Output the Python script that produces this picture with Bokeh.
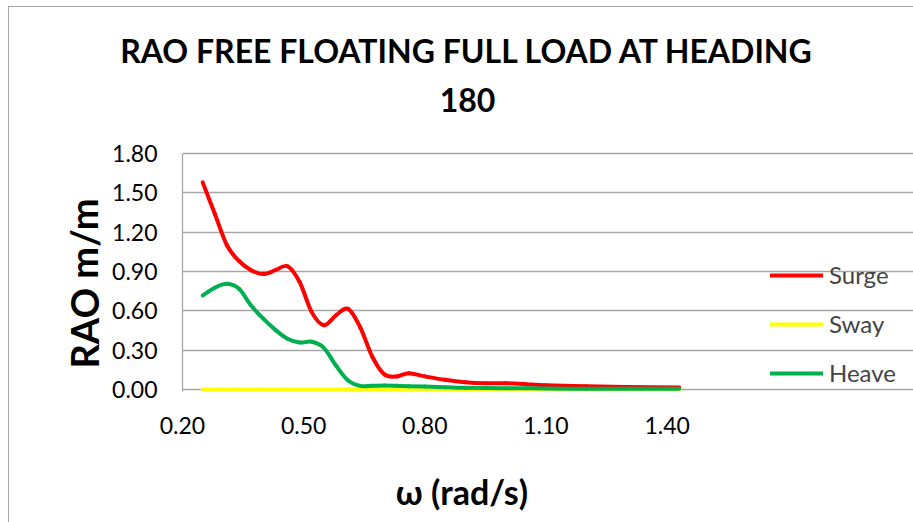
from bokeh.plotting import figure
from bokeh.layouts import column, row
from bokeh.models import Range1d, FixedTicker, NumeralTickFormatter, Label, Legend, LegendItem
from bokeh.embed import file_html
from bokeh.resources import INLINE

# ---- data ----
omega = [0.25, 0.28, 0.31, 0.34, 0.37, 0.40, 0.43, 0.46, 0.49, 0.52, 0.55, 0.58, 0.61, 0.64,
         0.67, 0.70, 0.73, 0.76, 0.80, 0.85, 0.90, 0.95, 1.00, 1.05, 1.10, 1.20, 1.30, 1.43]
surge = [1.58, 1.34, 1.10, 0.98, 0.91, 0.88, 0.91, 0.94, 0.82, 0.59, 0.49, 0.565, 0.615, 0.475,
         0.25, 0.115, 0.10, 0.124, 0.10, 0.074, 0.056, 0.048, 0.048, 0.040, 0.032, 0.025, 0.020, 0.015]
sway = [0.0, 0.0, 0.0, 0.0, 0.0, 0.0, 0.0, 0.0, 0.0, 0.0, 0.0, 0.0, 0.0, 0.0,
        0.0, 0.0, 0.0, 0.0, 0.0, 0.0, 0.0, 0.0, 0.0, 0.0, 0.0, 0.0, 0.0, 0.0]
heave = [0.717, 0.776, 0.806, 0.768, 0.64, 0.54, 0.455, 0.387, 0.358, 0.364, 0.318, 0.183, 0.069, 0.028,
         0.028, 0.030, 0.028, 0.025, 0.022, 0.018, 0.013, 0.011, 0.010, 0.009, 0.008, 0.006, 0.005, 0.005]

x_ticks = [0.20, 0.50, 0.80, 1.10, 1.40]
y_ticks = [0.00, 0.30, 0.60, 0.90, 1.20, 1.50, 1.80]
x_axis_min, x_axis_max = 0.2, 1.5
y_axis_min, y_axis_max = 0.0, 1.8

title_line1 = "RAO FREE FLOATING FULL LOAD AT HEADING"
title_line2 = "180"
y_title = "RAO m/m"
x_title = "\u03c9 (rad/s)"
series_names = ["Surge", "Sway", "Heave"]
series_colors = ["#FF0000", "#FFFF00", "#00B050"]

FONT = "Lato"
GRID = "#A6A6A6"

# ---- pixel geometry ----
W, H = 904, 515              # size inside the chart border
TOP_PAD = 22                 # room above the 1.80 gridline for its label
TITLE_H = 124                # title strip height
YT_W = 100                   # y-title strip width
MAIN_W = W - YT_W
FRAME_LEFT = 73              # space for y tick labels
BOTTOM = 60                  # space for x tick labels
PLOT_W, PLOT_H = 525, 236    # visible plot area (px)
px_x = PLOT_W / (x_axis_max - x_axis_min)
px_y = PLOT_H / (y_axis_max - y_axis_min)
y_lo = y_axis_min - 2 / px_y
y_hi = y_axis_max + TOP_PAD / px_y
frame_w = MAIN_W - FRAME_LEFT
frame_h = PLOT_H + 2 + TOP_PAD
x_hi = x_axis_min + frame_w / px_x
MAIN_H = frame_h + BOTTOM
XT_H = H - TITLE_H - MAIN_H


def blank(width, height):
    f = figure(width=width, height=height, output_backend="svg", toolbar_location=None,
               x_range=Range1d(0, width), y_range=Range1d(0, height),
               min_border=0, min_border_left=0, min_border_right=0,
               min_border_top=0, min_border_bottom=0)
    f.title.visible = False
    f.axis.visible = False
    f.grid.visible = False
    f.outline_line_color = None
    f.background_fill_color = "white"
    f.border_fill_color = "white"
    return f


def lab(f, x, y, text, size, angle=0.0):
    f.add_layout(Label(x=x, y=y, x_units="screen", y_units="screen", text=text,
                       text_align="center", text_baseline="middle", angle=angle,
                       text_font=FONT, text_font_size=size, text_font_style="bold",
                       text_color="black"))


# title strip
t_fig = blank(W, TITLE_H)
lab(t_fig, 458, TITLE_H - 43, title_line1, "32px")
lab(t_fig, 458, TITLE_H - 92, title_line2, "32px")

# y-title strip (its frame is aligned with the main plot frame)
y_fig = blank(YT_W, MAIN_H)
lab(y_fig, 74, 108, y_title, "38px", angle=1.5708)

# x-title strip
x_fig = blank(W, XT_H)
lab(x_fig, 452, XT_H - 40, x_title, "34px")

# main plot
p = figure(width=MAIN_W, height=MAIN_H, output_backend="svg", toolbar_location=None,
           x_range=Range1d(x_axis_min, x_hi), y_range=Range1d(y_lo, y_hi),
           min_border_left=FRAME_LEFT, min_border_right=0, min_border_top=0,
           min_border_bottom=BOTTOM)
p.title.visible = False
p.outline_line_color = None
p.background_fill_color = "white"
p.border_fill_color = "white"

p.xgrid.visible = False
p.ygrid.grid_line_color = GRID
p.ygrid.grid_line_width = 1.3
p.ygrid.ticker = FixedTicker(ticks=y_ticks)
p.ygrid.bounds = (x_axis_min, x_axis_max)

p.xaxis.ticker = FixedTicker(ticks=x_ticks)
p.yaxis.ticker = FixedTicker(ticks=y_ticks)
p.xaxis.formatter = NumeralTickFormatter(format="0.00")
p.yaxis.formatter = NumeralTickFormatter(format="0.00")
p.xaxis.bounds = (x_axis_min, x_axis_max)
p.yaxis.bounds = (y_lo, y_axis_max)
for ax in (p.xaxis, p.yaxis):
    ax.major_tick_in = 0
    ax.major_tick_out = 0
    ax.minor_tick_in = 0
    ax.minor_tick_out = 0
    ax.major_label_text_font = FONT
    ax.major_label_text_font_size = "23px"
    ax.major_label_text_color = "black"
p.xaxis.axis_line_color = None
p.yaxis.axis_line_color = GRID
p.yaxis.axis_line_width = 1.3
p.yaxis.major_label_standoff = 25
p.xaxis.major_label_standoff = 25


def smooth_segments(xs, ys):
    # cubic Bezier segments through the points (Excel-style smoothed line)
    n = len(xs)
    out = {"x0": [], "y0": [], "x1": [], "y1": [], "cx0": [], "cy0": [], "cx1": [], "cy1": []}
    for i in range(n - 1):
        xp, yp = (xs[i - 1], ys[i - 1]) if i > 0 else (xs[i], ys[i])
        xn, yn = (xs[i + 2], ys[i + 2]) if i + 2 < n else (xs[i + 1], ys[i + 1])
        out["x0"].append(xs[i]); out["y0"].append(ys[i])
        out["x1"].append(xs[i + 1]); out["y1"].append(ys[i + 1])
        out["cx0"].append(xs[i] + (xs[i + 1] - xp) / 6)
        out["cy0"].append(ys[i] + (ys[i + 1] - yp) / 6)
        out["cx1"].append(xs[i + 1] - (xn - xs[i]) / 6)
        out["cy1"].append(ys[i + 1] - (yn - ys[i]) / 6)
    return out


renderers = []
for name, ys, col in zip(series_names, [surge, sway, heave], series_colors):
    seg = smooth_segments(omega, ys)
    r = p.bezier(x0=seg["x0"], y0=seg["y0"], x1=seg["x1"], y1=seg["y1"],
                 cx0=seg["cx0"], cy0=seg["cy0"], cx1=seg["cx1"], cy1=seg["cy1"],
                 line_color=col, line_width=4, line_cap="round")
    renderers.append(r)

legend = Legend(items=[LegendItem(label=n, renderers=[r]) for n, r in zip(series_names, renderers)],
                location=(588, 4), glyph_width=53, glyph_height=20, label_height=20,
                label_standoff=6, spacing=20, padding=0, margin=0,
                border_line_color=None, background_fill_alpha=0,
                label_text_font=FONT, label_text_font_size="24px")
p.add_layout(legend, "center")

layout = column(t_fig, row(y_fig, p), x_fig)
layout.styles = {"margin-left": "8px", "margin-top": "6px",
                 "border-top": "1px solid #A6A6A6", "border-left": "1px solid #A6A6A6"}

open("out.html", "w").write(file_html(layout, INLINE))
